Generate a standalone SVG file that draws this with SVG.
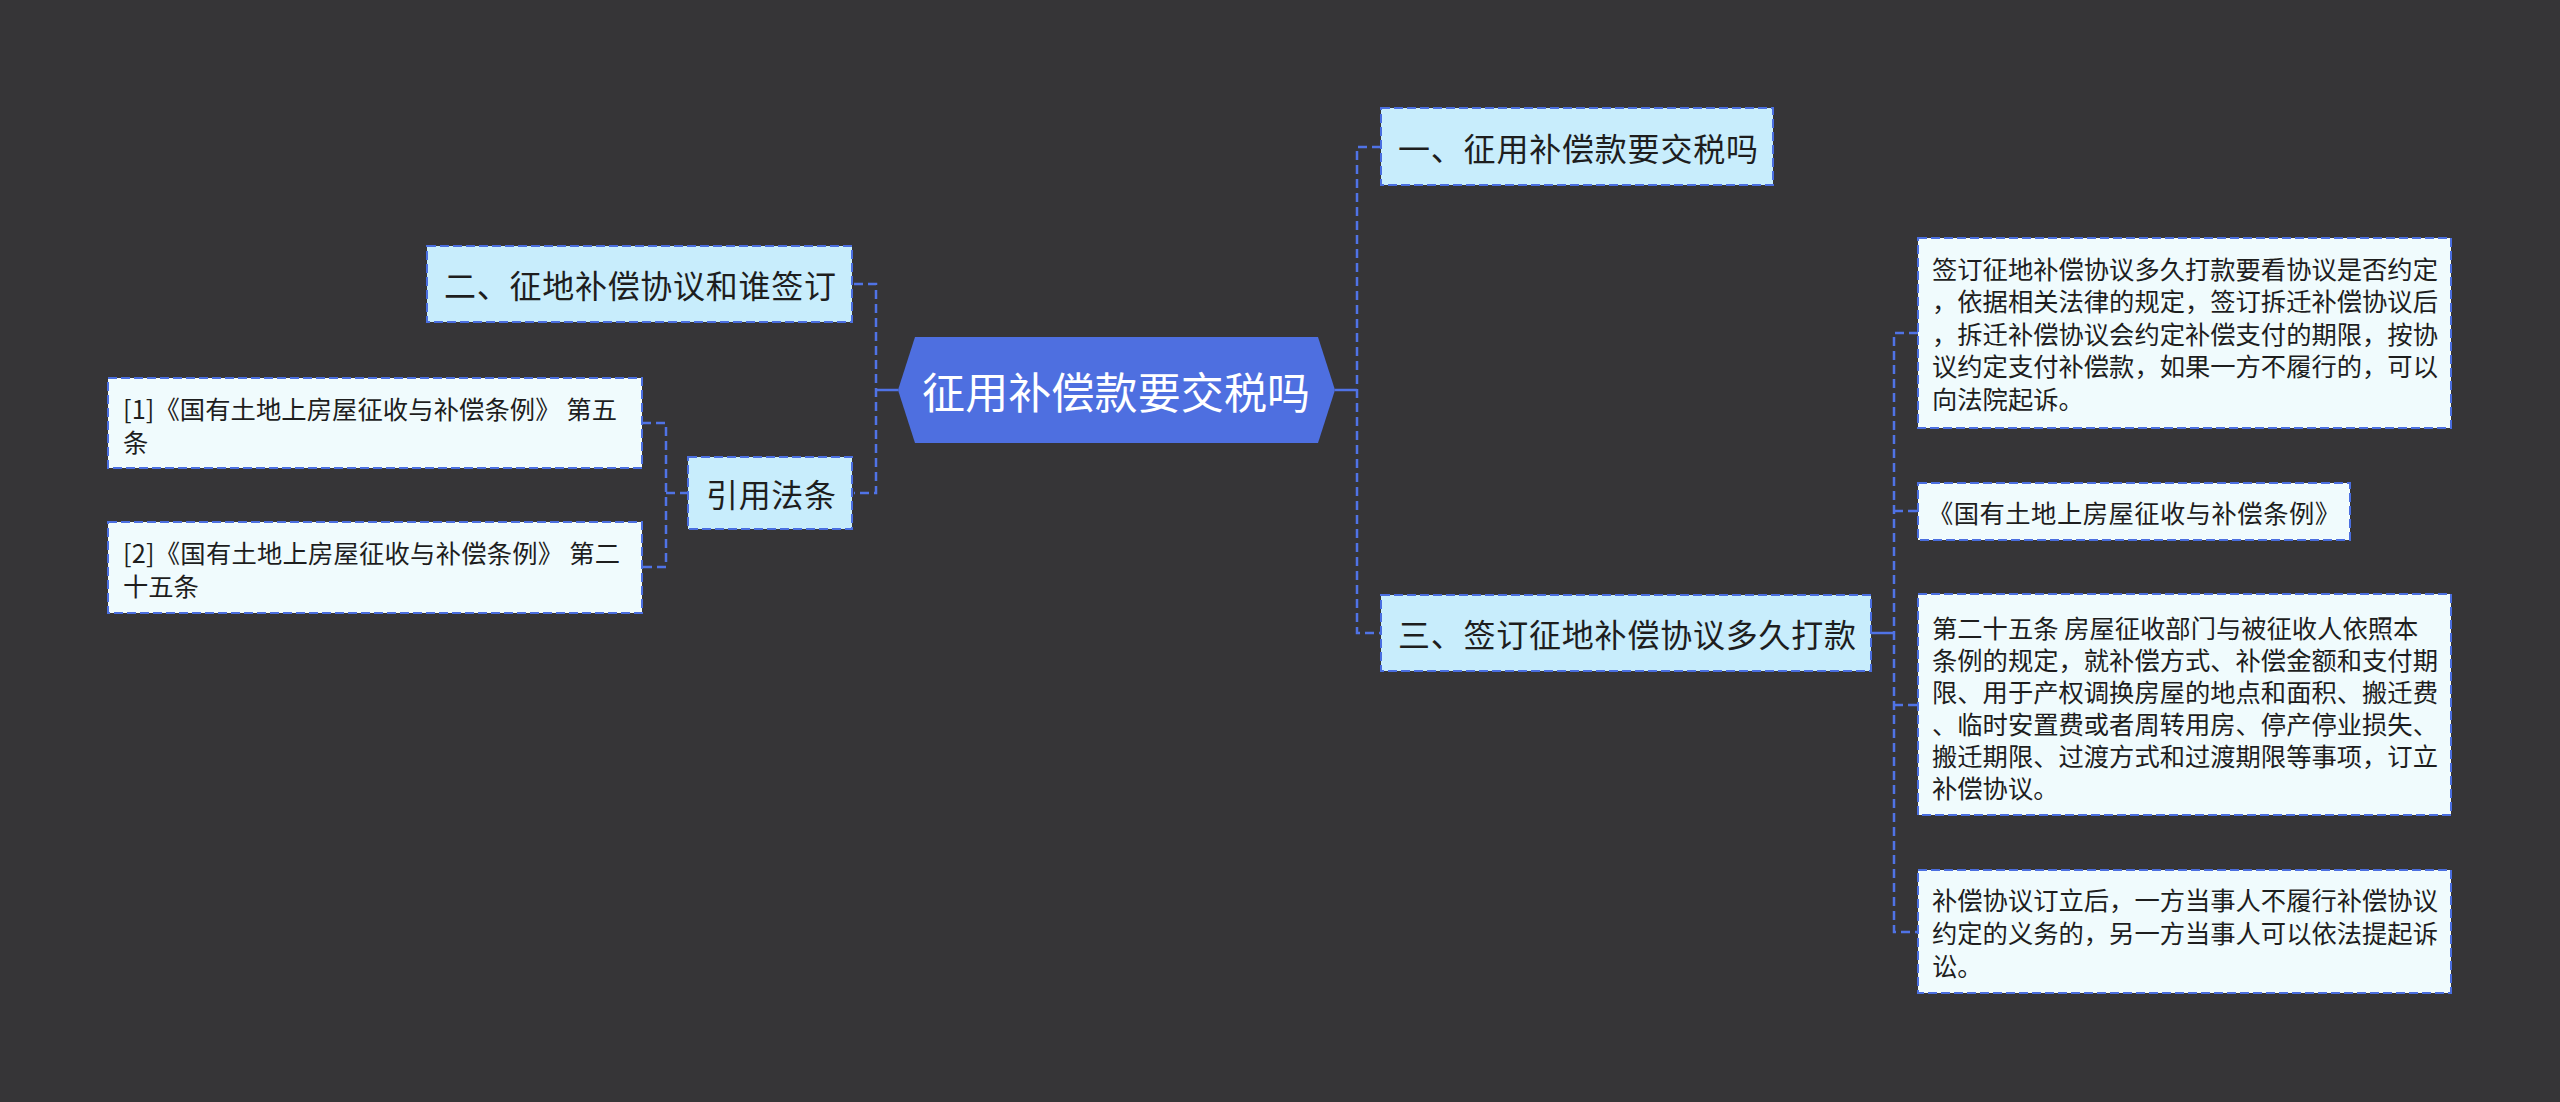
<svg xmlns="http://www.w3.org/2000/svg" width="2560" height="1102" viewBox="0 0 2560 1102">
<style>
.bg{fill:#363537}
.root{fill:#4e6fe0}
.l1{fill:#c8edfc;stroke:#4a6ee0;stroke-width:2;stroke-dasharray:9 4}
.leaf{fill:#f0fbfd;stroke:#4a6ee0;stroke-width:2;stroke-dasharray:9 4}
.t{font-family:"Noto Sans CJK SC","Noto Sans",sans-serif;fill:#1e1e1e;dominant-baseline:central}
.rt{font-family:"Noto Sans CJK SC","Noto Sans",sans-serif;fill:#ffffff;font-size:43px;dominant-baseline:central}
.t1{font-size:32px}
.t2{font-size:25.3px}
.c{fill:none;stroke:#5073e6;stroke-width:2.5;stroke-dasharray:9 5}
.cs{fill:none;stroke:#5073e6;stroke-width:2.5}
</style>
<rect class="bg" x="0" y="0" width="2560" height="1102"/>
<g id="connectors">
<path class="cs" d="M876,390 H898"/>
<path class="cs" d="M1335,390 H1357"/>
<path class="c" d="M854,284 H876 V493 H854"/>
<path class="c" d="M642,423 H666 V567 H642"/>
<path class="c" d="M666,493 H688"/>
<path class="c" d="M1381,147 H1357 V633 H1381"/>
<path class="cs" d="M1871,633 H1894"/>
<path class="c" d="M1918,333 H1894 V932 H1918"/>
<path class="c" d="M1894,511 H1918"/>
<path class="c" d="M1894,705 H1918"/>
</g>
<g id="root">
<polygon class="root" points="898,390 915,337 1318,337 1335,390 1318,443 915,443"/>
<text class="rt" x="922" y="390" textLength="388" lengthAdjust="spacing">征用补偿款要交税吗</text>
</g>
<g id="n1">
<rect class="l1" x="1381" y="108" width="392" height="77"/>
<text class="t t1" x="1398" y="147" textLength="360" lengthAdjust="spacing">一、征用补偿款要交税吗</text>
</g>
<g id="n2">
<rect class="l1" x="427" y="246" width="425" height="76"/>
<text class="t t1" x="444" y="284" textLength="392" lengthAdjust="spacing">二、征地补偿协议和谁签订</text>
</g>
<g id="n3">
<rect class="l1" x="1381" y="595" width="490" height="76"/>
<text class="t t1" x="1398" y="633" textLength="458" lengthAdjust="spacing">三、签订征地补偿协议多久打款</text>
</g>
<g id="n4">
<rect class="l1" x="688" y="457" width="164" height="72"/>
<text class="t t1" x="706" y="493" textLength="130" lengthAdjust="spacing">引用法条</text>
</g>
<g id="leafL1">
<rect class="leaf" x="108" y="378" width="534" height="90"/>
<text class="t t2" x="123" y="408" textLength="494" lengthAdjust="spacing">[1]《国有土地上房屋征收与补偿条例》 第五</text>
<text class="t t2" x="123" y="441">条</text>
</g>
<g id="leafL2">
<rect class="leaf" x="108" y="522" width="534" height="91"/>
<text class="t t2" x="123" y="552" textLength="497" lengthAdjust="spacing">[2]《国有土地上房屋征收与补偿条例》 第二</text>
<text class="t t2" x="123" y="585">十五条</text>
</g>
<g id="leafR1">
<rect class="leaf" x="1918" y="238" width="533" height="190"/>
<text class="t t2" x="1932" y="268">签订征地补偿协议多久打款要看协议是否约定</text>
<text class="t t2" x="1932" y="300">，依据相关法律的规定，签订拆迁补偿协议后</text>
<text class="t t2" x="1932" y="333">，拆迁补偿协议会约定补偿支付的期限，按协</text>
<text class="t t2" x="1932" y="365">议约定支付补偿款，如果一方不履行的，可以</text>
<text class="t t2" x="1932" y="398">向法院起诉。</text>
</g>
<g id="leafR2">
<rect class="leaf" x="1918" y="483" width="432" height="57"/>
<text class="t t2" x="1928" y="512" textLength="412" lengthAdjust="spacing">《国有土地上房屋征收与补偿条例》</text>
</g>
<g id="leafR3">
<rect class="leaf" x="1918" y="594" width="533" height="221"/>
<text class="t t2" x="1932" y="627">第二十五条 房屋征收部门与被征收人依照本</text>
<text class="t t2" x="1932" y="659">条例的规定，就补偿方式、补偿金额和支付期</text>
<text class="t t2" x="1932" y="691">限、用于产权调换房屋的地点和面积、搬迁费</text>
<text class="t t2" x="1932" y="723">、临时安置费或者周转用房、停产停业损失、</text>
<text class="t t2" x="1932" y="755">搬迁期限、过渡方式和过渡期限等事项，订立</text>
<text class="t t2" x="1932" y="787">补偿协议。</text>
</g>
<g id="leafR4">
<rect class="leaf" x="1918" y="870" width="533" height="123"/>
<text class="t t2" x="1932" y="899">补偿协议订立后，一方当事人不履行补偿协议</text>
<text class="t t2" x="1932" y="932">约定的义务的，另一方当事人可以依法提起诉</text>
<text class="t t2" x="1932" y="965">讼。</text>
</g>
</svg>
